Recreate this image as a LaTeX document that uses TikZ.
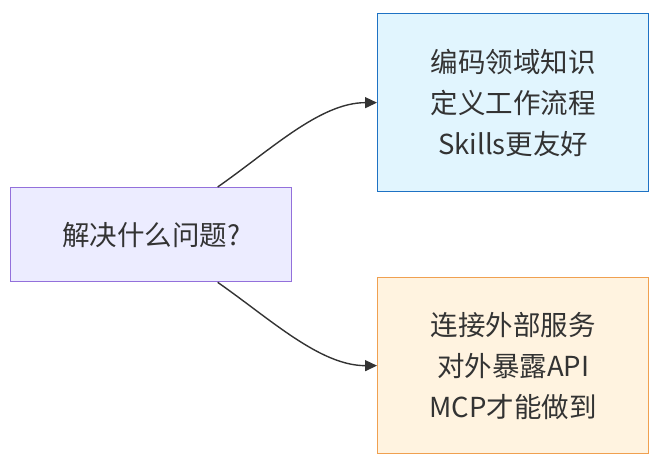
\documentclass[tikz,border=0pt]{standalone}
\usepackage{fontspec}
\setmainfont{Noto Sans CJK SC}
\usetikzlibrary{arrows.meta}
\definecolor{qFill}{HTML}{ECECFF}
\definecolor{qLine}{HTML}{9370DB}
\definecolor{skFill}{HTML}{E1F5FE}
\definecolor{skLine}{HTML}{1E72C4}
\definecolor{mcFill}{HTML}{FFF3E0}
\definecolor{mcLine}{HTML}{F0A050}
\definecolor{inkGray}{HTML}{333333}
\begin{document}
\begin{tikzpicture}[x=1pt,y=-1pt,font=\fontsize{27.5}{41}\selectfont,
 box/.style={draw,line width=1.3pt,align=center,text=inkGray,inner sep=0pt,anchor=north west},
 arr/.style={-{Stealth[length=12pt,width=11pt,inset=0pt]},line width=1.4pt,inkGray}]
\path[use as bounding box] (0,0) rectangle (658,468);
\node[box,draw=qLine,fill=qFill,minimum width=281pt,minimum height=94pt] (q) at (10,187) {解决什么问题?};
\node[box,draw=skLine,fill=skFill,minimum width=271pt,minimum height=178pt] (skills) at (377,13) {编码领域知识\\定义工作流程\\Skills更友好};
\node[box,draw=mcLine,fill=mcFill,minimum width=271pt,minimum height=176pt] (mcp) at (377,277) {连接外部服务\\对外暴露API\\MCP才能做到};
\draw[arr] ([xshift=66.5pt]q.north) .. controls +(53,-37) and +(-57,0) .. (skills.west);
\draw[arr] ([xshift=66.5pt]q.south) .. controls +(53,37) and +(-57,0) .. (mcp.west);
\end{tikzpicture}
\end{document}
